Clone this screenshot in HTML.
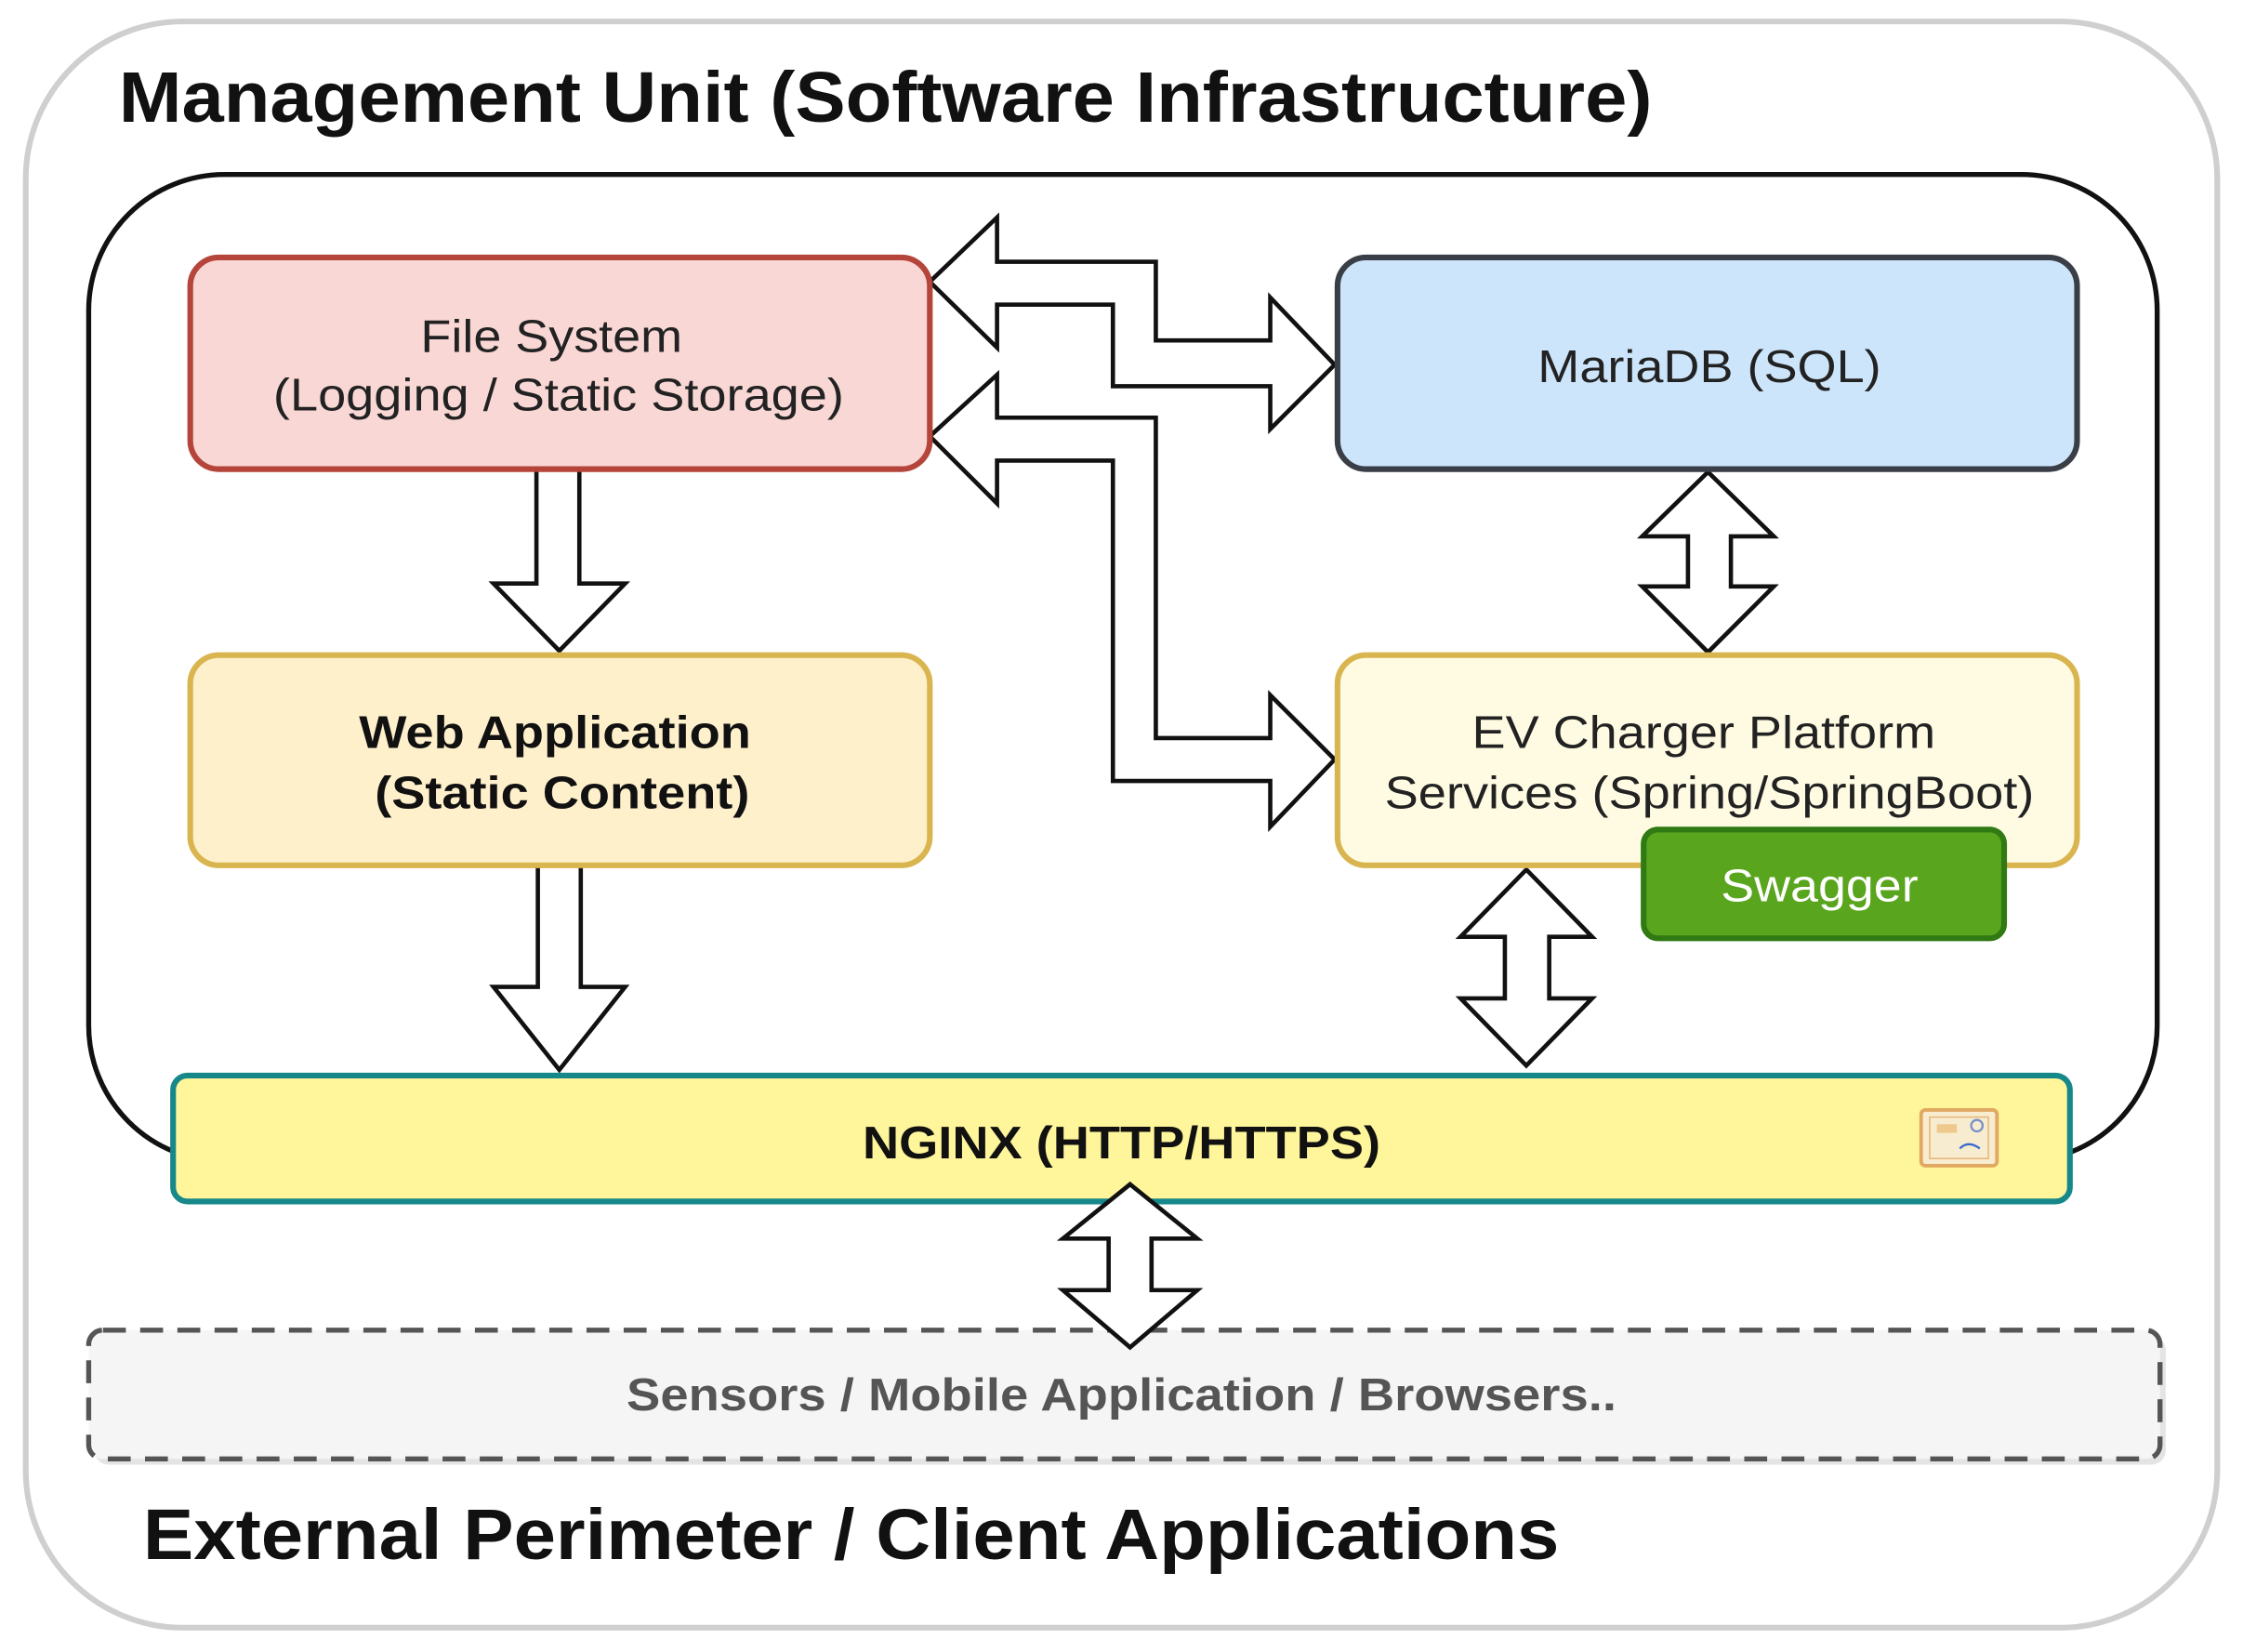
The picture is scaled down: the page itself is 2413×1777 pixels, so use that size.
<!DOCTYPE html>
<html><head><meta charset="utf-8"><style>
html,body{margin:0;padding:0;background:#fff;}
svg{display:block;}
text{font-family:"Liberation Sans",sans-serif;}
</style></head><body>
<svg width="2413" height="1777" viewBox="0 0 1568 1155" preserveAspectRatio="none" xmlns="http://www.w3.org/2000/svg">
<rect x="18" y="15" width="1532" height="1123" rx="110" fill="#fff" stroke="#cfcfcf" stroke-width="4"/>
<text x="83" y="85" font-size="50" font-weight="bold" fill="#111" textLength="1072" lengthAdjust="spacingAndGlyphs">Management Unit (Software Infrastructure)</text>
<rect x="62" y="122" width="1446" height="690" rx="95" fill="#fff" stroke="#111" stroke-width="3.5"/>

<g fill="#fff" stroke="#111" stroke-width="3" stroke-linejoin="miter">
<path d="M650,197 L697,152 L697,183 L808,183 L808,238 L888,238 L888,208 L933,255 L888,300 L888,270 L778,270 L778,213 L697,213 L697,243 Z"/>
<path d="M650,305 L697,262 L697,292 L808,292 L808,516 L888,516 L888,486 L933,531 L888,578 L888,546 L778,546 L778,322 L697,322 L697,352 Z"/>
<path d="M375,328 L405,328 L405,408 L437,408 L391,455 L345,408 L375,408 Z"/>
<path d="M376,605 L406,605 L406,690 L437,690 L391,748 L345,690 L376,690 Z"/>
<path d="M1194,330 L1240,375 L1210,375 L1210,410 L1240,410 L1194,456 L1148,410 L1180,410 L1180,375 L1148,375 Z"/>
<path d="M1067,608 L1113,655 L1083,655 L1083,698 L1113,698 L1067,745 L1021,698 L1052,698 L1052,655 L1021,655 Z"/>
</g>

<rect x="133" y="180" width="517" height="148" rx="20" fill="#f8d7d5" stroke="#b5453a" stroke-width="4"/>
<text x="294" y="246" font-size="32" fill="#222" textLength="183" lengthAdjust="spacingAndGlyphs">File System</text>
<text x="191" y="287" font-size="32" fill="#222" textLength="399" lengthAdjust="spacingAndGlyphs">(Logging / Static Storage)</text>

<rect x="935" y="180" width="517" height="148" rx="20" fill="#cde5fb" stroke="#3a3f47" stroke-width="4"/>
<text x="1075" y="267" font-size="32" fill="#222" textLength="240" lengthAdjust="spacingAndGlyphs">MariaDB (SQL)</text>

<rect x="133" y="458" width="517" height="147" rx="20" fill="#fff0cc" stroke="#d9b550" stroke-width="4"/>
<text x="251" y="523" font-size="32" font-weight="bold" fill="#111" textLength="274" lengthAdjust="spacingAndGlyphs">Web Application</text>
<text x="262" y="565" font-size="32" font-weight="bold" fill="#111" textLength="262" lengthAdjust="spacingAndGlyphs">(Static Content)</text>

<rect x="935" y="458" width="517" height="147" rx="20" fill="#fffbe3" stroke="#d9b550" stroke-width="4"/>
<text x="1029" y="523" font-size="32" fill="#222" textLength="324" lengthAdjust="spacingAndGlyphs">EV Charger Platform</text>
<text x="968" y="565" font-size="32" fill="#222" textLength="454" lengthAdjust="spacingAndGlyphs">Services (Spring/SpringBoot)</text>

<rect x="1149" y="580" width="252" height="76" rx="10" fill="#5aa51e" stroke="#2f7a12" stroke-width="4"/>
<text x="1203" y="630" font-size="32" fill="#fff" textLength="138" lengthAdjust="spacingAndGlyphs">Swagger</text>

<rect x="121" y="752" width="1326" height="88" rx="10" fill="#fff59a" stroke="#17888a" stroke-width="4"/>
<text x="603" y="810" font-size="32" font-weight="bold" fill="#111" textLength="362" lengthAdjust="spacingAndGlyphs">NGINX (HTTP/HTTPS)</text>
<rect x="1343" y="776" width="53" height="39" rx="3" fill="#f7eccf" stroke="#e0a860" stroke-width="2.5"/>
<rect x="1349" y="781" width="41" height="29" fill="none" stroke="#e6b878" stroke-width="1"/>
<rect x="1354" y="786" width="14" height="6" fill="#e8b060" opacity="0.6"/>
<circle cx="1382" cy="787" r="4" fill="none" stroke="#7a90c8" stroke-width="1.5"/>
<path d="M1370,803 q6,-6 14,0" fill="none" stroke="#3a6ad0" stroke-width="1.5"/>

<rect x="66" y="934" width="1448" height="90" rx="10" fill="#d8d8d8" opacity="0.7"/>
<rect x="62" y="930" width="1448" height="90" rx="10" fill="#f5f5f5" stroke="#555" stroke-width="3.5" stroke-dasharray="16 10"/>
<text x="438" y="986" font-size="32" font-weight="bold" fill="#555" textLength="692" lengthAdjust="spacingAndGlyphs">Sensors / Mobile Application / Browsers..</text>

<path d="M790,828 L837,866 L805,866 L805,902 L837,902 L790,942 L743,902 L775,902 L775,866 L743,866 Z" fill="#fff" stroke="#111" stroke-width="3"/>

<text x="100" y="1090" font-size="50" font-weight="bold" fill="#111" textLength="990" lengthAdjust="spacingAndGlyphs">External Perimeter / Client Applications</text>
</svg>
</body></html>
